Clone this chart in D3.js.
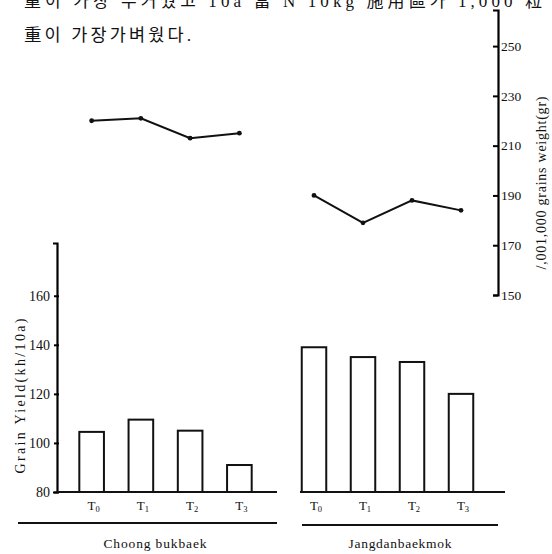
<!DOCTYPE html>
<html><head><meta charset="utf-8">
<script src="https://cdn.jsdelivr.net/npm/d3@7"></script>
<style>
html,body{margin:0;padding:0;background:#fff;}
svg{display:block;}
text{font-family:"Liberation Serif","Noto Sans CJK KR",serif;fill:#111;}
</style></head>
<body>
<script>
// ---- data ----
const groups = ["Choong bukbaek", "Jangdanbaekmok"];
const treatments = ["T0", "T1", "T2", "T3"];
const treatmentSubs = ["0", "1", "2", "3"];
const yieldChoong = [104.5, 109.5, 105, 91];
const yieldJangdan = [139, 135, 133, 120];
const weightChoong = [220, 221, 213, 215];
const weightJangdan = [190, 179, 188, 184];
const yieldTicks = [80, 100, 120, 140, 160];
const weightTicks = [150, 170, 190, 210, 230, 250];
const yieldTitle = "Grain Yield(kh/10a)";
const weightTitle = "/,001,000 grains weight(gr)";
const textLine1 = "重이 가장 무거웠고 10a 當 N 10kg 施用區가 1,000 粒";
const textLine2 = "重이  가장가벼웠다.";

const W = 552, H = 554;
const svg = d3.select("body").append("svg").attr("width", W).attr("height", H);

// header text (scanned page, first line cut at the top edge as in the original)
svg.append("text").attr("x", 24).attr("y", 7).attr("font-size", 17)
  .attr("textLength", 518).attr("lengthAdjust", "spacing").text(textLine1);
svg.append("text").attr("x", 24).attr("y", 41).attr("font-size", 17.5)
  .attr("textLength", 167).attr("lengthAdjust", "spacing").text(textLine2);

// scales
const yL = d3.scaleLinear().domain([80, 181.5]).range([492, 243]);
const yR = d3.scaleLinear().domain([150, 264.5]).range([295, 10]);
const x1 = d3.scaleBand().domain(treatments).range([67, 264]).paddingInner(0.5).paddingOuter(0.25);
const x2 = d3.scaleBand().domain(treatments).range([289.5, 485.5]).paddingInner(0.5).paddingOuter(0.25);

// left axis
const gL = svg.append("g").attr("transform", "translate(57,0)")
  .call(d3.axisLeft(yL).tickValues(yieldTicks).tickSizeOuter(0).tickSize(4).tickPadding(3));
gL.select(".domain").attr("stroke-width", 2.2);
gL.selectAll(".tick line").attr("stroke-width", 2).attr("x2", -3).attr("x1", 2);
gL.selectAll(".tick text").attr("font-size", 14).attr("font-family", "Liberation Serif");

svg.append("text").attr("transform", `translate(25,${396}) rotate(-90)`)
  .attr("text-anchor", "middle").attr("font-size", 14)
  .attr("textLength", 155).attr("lengthAdjust", "spacing").text(yieldTitle);

// right axis
const gR = svg.append("g").attr("transform", "translate(498,0)")
  .call(d3.axisRight(yR).tickValues(weightTicks).tickSizeOuter(0).tickSize(-5).tickPadding(3));
gR.select(".domain").attr("stroke-width", 2.2);
gR.selectAll(".tick line").attr("stroke-width", 2);
gR.selectAll(".tick text").attr("font-size", 13.5).attr("font-family", "Liberation Serif");

svg.append("text").attr("transform", `translate(546,${183}) rotate(-90)`)
  .attr("text-anchor", "middle").attr("font-size", 14)
  .attr("textLength", 173).attr("lengthAdjust", "spacing").text(weightTitle);

// panels
const panels = [
  {x: x1, yields: yieldChoong, weights: weightChoong, base: [57, 277], under: [18, 277], uy: 523, label: groups[0], lx: 155},
  {x: x2, yields: yieldJangdan, weights: weightJangdan, base: [300, 505], under: [302, 498], uy: 525, label: groups[1], lx: 400}
];

panels.forEach(p => {
  // bars
  svg.append("g").selectAll("rect").data(p.yields).join("rect")
    .attr("x", (d, i) => p.x(treatments[i]))
    .attr("y", d => yL(d))
    .attr("width", p.x.bandwidth())
    .attr("height", d => yL(80) - yL(d))
    .attr("fill", "#fff").attr("stroke", "#111").attr("stroke-width", 2);
  // baseline
  svg.append("line").attr("x1", p.base[0]).attr("x2", p.base[1])
    .attr("y1", yL(80)).attr("y2", yL(80)).attr("stroke", "#111").attr("stroke-width", 2.2);
  // category labels
  const t = svg.append("g").selectAll("text").data(treatments).join("text")
    .attr("x", d => p.x(d) + p.x.bandwidth() / 2 + 2)
    .attr("y", 510).attr("text-anchor", "middle").attr("font-size", 13);
  t.append("tspan").text("T");
  t.append("tspan").attr("font-size", 8.5).attr("dy", 2).text((d, i) => treatmentSubs[i]);
  // underline
  svg.append("line").attr("x1", p.under[0]).attr("x2", p.under[1])
    .attr("y1", p.uy).attr("y2", p.uy).attr("stroke", "#111").attr("stroke-width", 1.8);
  // group label
  svg.append("text").attr("x", p.lx).attr("y", 548).attr("text-anchor", "middle")
    .attr("font-size", 13.5).attr("textLength", 103).attr("lengthAdjust", "spacing").text(p.label);
  // weight line
  const line = d3.line().x((d, i) => p.x(treatments[i]) + p.x.bandwidth() / 2).y(d => yR(d));
  svg.append("path").attr("d", line(p.weights)).attr("fill", "none")
    .attr("stroke", "#111").attr("stroke-width", 2);
  svg.append("g").selectAll("circle").data(p.weights).join("circle")
    .attr("cx", (d, i) => p.x(treatments[i]) + p.x.bandwidth() / 2)
    .attr("cy", d => yR(d)).attr("r", 2.4).attr("fill", "#111");
});
</script>
</body></html>
